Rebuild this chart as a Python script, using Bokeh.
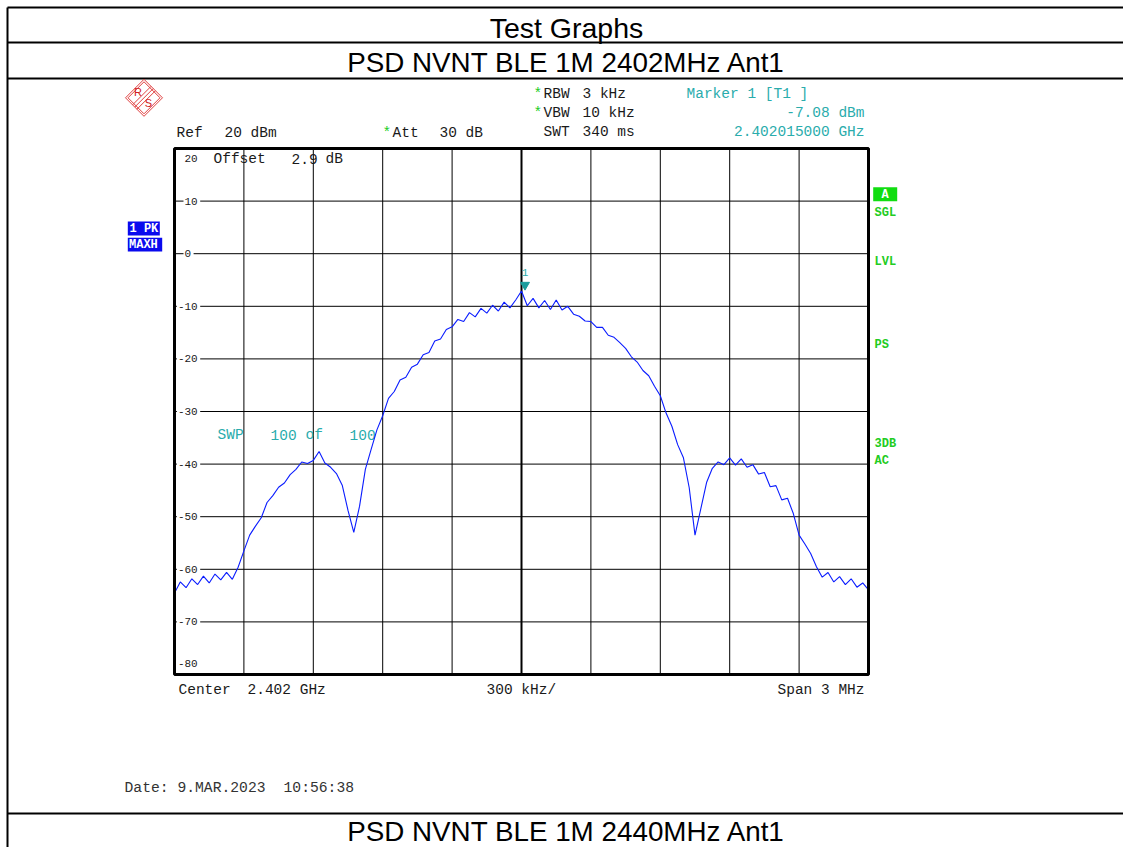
import numpy as np
from bokeh.plotting import figure
from bokeh.models import Range1d
from bokeh.core.properties import value
from bokeh.embed import file_html
from bokeh.resources import INLINE

# ---------------- data ----------------
center_ghz = 2.402
span_mhz = 3.0
ref_level_dbm = 20
bottom_level_dbm = -80

# sweep points: offset from centre frequency (MHz)
freq_offset_mhz = list(np.round(np.linspace(-1.5, 1.5, 121), 4))

# trace level (dBm)
level_dbm = [
    -64.5, -62.4, -63.5, -61.8, -62.9, -61.3, -62.6, -60.9, -62.0, -60.6,
    -61.9, -59.6, -56.5, -53.5, -51.8, -50.2, -47.3, -46.0, -44.4, -43.6,
    -42.0, -41.0, -39.6, -39.9, -39.3, -37.6, -39.8, -40.6, -41.8, -44.0,
    -48.8, -53.0, -48.0, -41.0, -37.2, -33.5, -30.8, -27.5, -26.2, -24.0,
    -23.5, -21.6, -21.0, -19.2, -18.8, -16.6, -16.2, -14.4, -13.9, -12.5,
    -12.9, -11.2, -12.0, -10.4, -11.3, -9.8, -10.9, -9.2, -10.3, -8.8,
    -7.1, -9.9, -8.5, -10.3, -8.9, -10.6, -8.8, -10.7, -10.0, -11.5,
    -11.9, -12.8, -12.9, -14.0, -14.0, -15.5, -15.9, -16.9, -18.0, -19.6,
    -20.6, -22.2, -23.2, -25.2, -27.0, -30.3, -32.8, -36.3, -38.8, -44.5,
    -53.5, -48.5, -43.5, -40.8, -39.6, -40.1, -38.8, -40.2, -39.0, -40.6,
    -40.1, -41.9, -41.6, -44.3, -44.1, -46.8, -46.5, -49.4, -53.5, -55.2,
    -57.0, -59.5, -61.5, -60.6, -62.4, -61.4, -62.9, -61.8, -63.4, -62.6,
    -63.9,
]

freq_ticks = [-1.5, -1.2, -0.9, -0.6, -0.3, 0.0, 0.3, 0.6, 0.9, 1.2, 1.5]
level_ticks = [20, 10, 0, -10, -20, -30, -40, -50, -60, -70, -80]
level_tick_labels = ["20", "10", "0", "-10", "-20", "-30", "-40", "-50", "-60", "-70", "-80"]

marker_offset_mhz = 0.015
marker_level_dbm = -7.08

page_title = "Test Graphs"
chart_title = "PSD NVNT BLE 1M 2402MHz Ant1"
next_title = "PSD NVNT BLE 1M 2440MHz Ant1"

# ---------------- layout mapping ----------------
W, H = 1123, 847
OFF = 0
FX0, FX1 = 174.0, 868.0     # frame left/right (page px)
FY0, FY1 = 148.0, 674.0     # frame top/bottom (page px)


def X(px):
    return -span_mhz / 2 + (px - FX0) * span_mhz / (FX1 - FX0)


def Y(py):
    return ref_level_dbm - (py - FY0) * (ref_level_dbm - bottom_level_dbm) / (FY1 - FY0)


def DY(dpy):
    return dpy * (ref_level_dbm - bottom_level_dbm) / (FY1 - FY0)


p = figure(width=W, height=H,
           x_range=Range1d(X(OFF), X(OFF + W)),
           y_range=Range1d(Y(OFF + H), Y(OFF)),
           output_backend="svg", toolbar_location=None, tools="",
           x_axis_location=None, y_axis_location=None,
           min_border=0, outline_line_color=None,
           background_fill_color="white", border_fill_color="white")
p.grid.visible = False

MONO = value("Liberation Mono")
SANS = value("Liberation Sans")


def txt(px, py, s, size, color, align="left", baseline="middle",
        font=MONO, style="normal"):
    p.text(x=[X(px)], y=[Y(py)], text=[s], text_font=font,
           text_font_size=f"{size}px", text_color=color, text_align=align,
           text_baseline=baseline, text_font_style=style)


# ---------------- page frame ----------------
for py in (7, 42, 78, 813):
    p.segment(x0=[X(7)], y0=[Y(py)], x1=[X(OFF + W)], y1=[Y(py)],
              line_color="black", line_width=2)
p.segment(x0=[X(7)], y0=[Y(7)], x1=[X(7)], y1=[Y(OFF + H)],
          line_color="black", line_width=2)

txt(566, 27, page_title, 28.5, "black", align="center", font=SANS)
txt(566, 61.5, chart_title, 27.8, "black", align="center", font=SANS)
txt(566, 831, next_title, 27.8, "black", align="center", font=SANS)

# ---------------- R&S logo ----------------
cx, cy, r = 143.5, 97.3, 18.5
for rr in (r, r - 2.5):
    p.patch(x=[X(cx), X(cx + rr), X(cx), X(cx - rr)],
            y=[Y(cy - rr), Y(cy), Y(cy + rr), Y(cy)],
            fill_color=None, line_color="#e04040", line_width=1)
for d in (-2.2, 0, 2.2):
    p.segment(x0=[X(cx - r / 2 + d)], y0=[Y(cy + r / 2 + d)],
              x1=[X(cx + r / 2 + d)], y1=[Y(cy - r / 2 + d)],
              line_color="#e04040", line_width=1)
txt(137.5, 91.7, "R", 11, "#d02020", align="center", font=SANS)
txt(148, 102.5, "S", 11, "#d02020", align="center", font=SANS)

# ---------------- instrument header ----------------
DARK = "#1a1a1a"
TEAL = "#2aacac"
GREEN = "#22cc22"
FS = 14.5
R1, R2, R3 = 93, 112.5, 131.5
txt(176, 132, "Ref", FS, DARK)
txt(224, 132, "20 dBm", FS, DARK)
txt(382, 132, "*", FS, GREEN)
txt(392, 132, "Att", FS, DARK)
txt(439, 132, "30 dB", FS, DARK)
txt(533, R1, "*", FS, GREEN)
txt(543, R1, "RBW", FS, DARK)
txt(582, R1, "3 kHz", FS, DARK)
txt(533, R2, "*", FS, GREEN)
txt(543, R2, "VBW", FS, DARK)
txt(582, R2, "10 kHz", FS, DARK)
txt(543, R3, "SWT", FS, DARK)
txt(582, R3, "340 ms", FS, DARK)
txt(686, R1, "Marker 1 [T1 ]", FS, TEAL)
txt(864, R2, "%.2f dBm" % marker_level_dbm, FS, TEAL, align="right")
txt(864, R3, "%.9f GHz" % (center_ghz + marker_offset_mhz / 1000), FS, TEAL, align="right")

# ---------------- grid ----------------
for f in freq_ticks[1:-1]:
    p.segment(x0=[f], y0=[bottom_level_dbm], x1=[f], y1=[ref_level_dbm],
              line_color="black", line_width=2 if f == 0 else 1)

LBL_FS = 11
CH = 6.6  # char pitch of tick labels
for lv, lab in zip(level_ticks, level_tick_labels):
    start_px = 184 - (CH if lab.startswith("-") else 0)
    end_px = start_px + CH * len(lab)
    if lv == ref_level_dbm:
        txt(184, 158, lab, LBL_FS, DARK)
        continue
    if lv == bottom_level_dbm:
        txt(start_px, 663, lab, LBL_FS, DARK)
        continue
    p.segment(x0=[-span_mhz / 2], y0=[lv], x1=[X(start_px - 1)], y1=[lv],
              line_color="black", line_width=1)
    p.segment(x0=[X(end_px + 2.5)], y0=[lv], x1=[span_mhz / 2], y1=[lv],
              line_color="black", line_width=1)
    p.text(x=[X(start_px)], y=[lv], text=[lab], text_font=MONO,
           text_font_size=f"{LBL_FS}px", text_color=DARK,
           text_align="left", text_baseline="middle")

txt(213, 158.5, "Offset", FS, DARK)
txt(291, 158.5, "2.9", FS, DARK)
txt(325, 158.5, "dB", FS, DARK)
txt(217, 434.5, "SWP", FS, TEAL)
txt(270, 434.5, "100", FS, TEAL)
txt(305, 434.5, "of", FS, TEAL)
txt(349, 434.5, "100", FS, TEAL)

# ---------------- trace ----------------
p.line(freq_offset_mhz, level_dbm, line_color="#0a1cff", line_width=1.1)

# marker
p.scatter([marker_offset_mhz], [marker_level_dbm + DY(6)], marker="inverted_triangle",
          size=9, fill_color="#1a9c9c", line_color="#1a9c9c")
p.text(x=[marker_offset_mhz], y=[marker_level_dbm + DY(18.5)], text=["1"],
       text_font=MONO, text_font_size="11px", text_color=TEAL,
       text_align="center", text_baseline="middle")

# frame
p.quad(left=[-span_mhz / 2], right=[span_mhz / 2], bottom=[bottom_level_dbm],
       top=[ref_level_dbm], fill_color=None, line_color="black", line_width=3)

# ---------------- side annotations ----------------
p.quad(left=[X(127.3)], right=[X(159.3)], top=[Y(221)], bottom=[Y(235)],
       fill_color="#0a0aee", line_color=None)
p.quad(left=[X(127.3)], right=[X(161.7)], top=[Y(237.3)], bottom=[Y(251)],
       fill_color="#0a0aee", line_color=None)
txt(129, 228.5, "1 PK", 12, "white", style="bold")
txt(128.5, 244.5, "MAXH", 12, "white", style="bold")

p.quad(left=[X(872.7)], right=[X(896.7)], top=[Y(186.7)], bottom=[Y(200.7)],
       fill_color="#11dd11", line_color=None)
txt(884.7, 194, "A", 12, "white", align="center", style="bold")
for lab, py in (("SGL", 212), ("LVL", 261), ("PS", 344), ("3DB", 443.7), ("AC", 460.7)):
    txt(874, py, lab, 12, GREEN, style="bold")

# ---------------- footer ----------------
txt(178, 689, "Center", FS, DARK)
txt(247, 689, "%.3f GHz" % center_ghz, FS, DARK)
txt(486, 689, "%d kHz/" % int(span_mhz * 1000 / 10), FS, DARK)
txt(864, 689, "Span %d MHz" % int(span_mhz), FS, DARK, align="right")
txt(124, 787, "Date: 9.MAR.2023", 14.7, "#333333")
txt(283, 787, "10:56:38", 14.7, "#333333")

open("out.html", "w").write(file_html(p, INLINE))
